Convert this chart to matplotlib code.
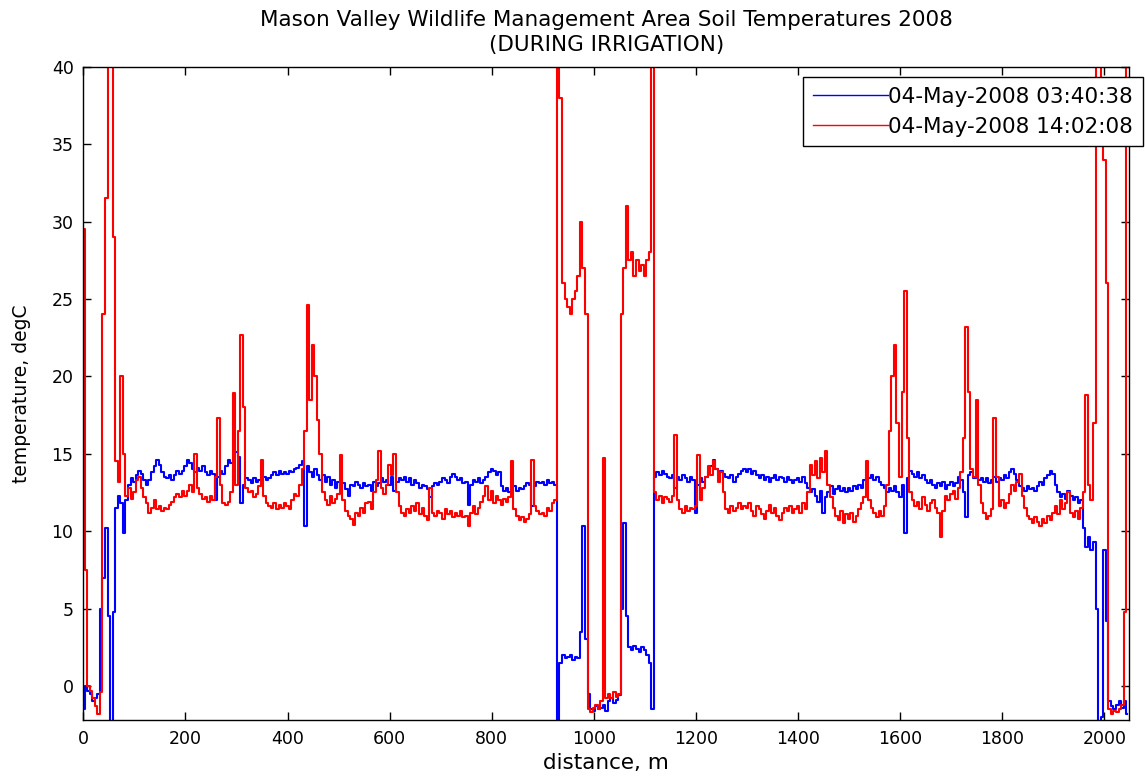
import numpy as np
import matplotlib
matplotlib.use("Agg")
import matplotlib.pyplot as plt

plt.rcParams['font.family'] = ['DejaVu Sans']

# Fibre distance, sampled every 5 m
distance_m = np.arange(0, 2050, 5)

# Soil temperature (degC) at 03:40:38
temp_0340 = [
    -1.5, 0.0, -0.3, -0.5, -1.0, -0.8, -0.5, 5.0, 7.0, 10.2, 4.5, -2.5, 4.8, 11.5, 12.3, 11.8, 9.9, 12.0, 13.0, 13.4,
    13.2, 13.6, 13.9, 13.7, 13.3, 13.0, 13.3, 13.8, 14.2, 14.6, 14.3, 13.8, 13.5, 13.4, 13.6, 13.3, 13.6, 13.9, 13.7, 13.9,
    14.2, 14.6, 14.4, 14.0, 13.8, 14.1, 13.9, 14.2, 13.8, 13.6, 13.9, 13.7, 12.0, 13.5, 13.9, 13.7, 14.2, 14.6, 14.4, 14.7,
    15.1, 14.8, 11.8, 13.0, 13.4, 13.3, 13.1, 13.4, 13.2, 13.3, 13.0, 13.5, 13.3, 13.4, 13.6, 13.8, 13.6, 13.9, 13.7, 13.8,
    13.7, 13.9, 13.8, 14.0, 14.1, 14.3, 14.5, 10.3, 14.2, 13.8, 13.5, 14.0, 13.6, 13.3, 13.6, 13.2, 13.5, 13.0, 13.3, 12.8,
    13.2, 12.9, 13.1, 12.7, 12.3, 13.0, 12.9, 13.2, 13.0, 12.8, 13.1, 12.9, 13.0, 12.6, 13.2, 12.9, 13.1, 13.4, 13.2, 13.3,
    13.0, 13.5, 12.6, 13.2, 13.4, 13.3, 13.5, 13.2, 13.4, 13.0, 13.3, 13.1, 12.8, 13.0, 12.9, 12.7, 12.2, 12.9, 13.1, 13.0,
    13.2, 13.4, 13.3, 13.1, 13.5, 13.7, 13.5, 13.3, 13.4, 13.1, 13.2, 11.7, 13.0, 13.3, 13.2, 13.4, 13.1, 13.3, 13.5, 13.8,
    14.0, 13.9, 13.6, 13.8, 12.9, 12.6, 12.8, 12.5, 12.7, 12.9, 12.6, 12.8, 12.7, 12.9, 13.1, 13.0, 11.6, 12.9, 13.2, 13.1,
    13.2, 13.0, 13.3, 13.1, 13.2, 13.0, -2.5, 1.5, 2.0, 1.8, 1.9, 2.0, 1.7, 1.9, 1.8, 3.5, 10.3, 3.0, -0.5, -1.5,
    -1.6, -1.3, -1.5, -1.4, -1.2, -1.6, -1.0, -0.8, -1.1, -0.9, -0.6, 5.0, 10.5, 4.5, 2.5, 2.3, 2.6, 2.4, 2.2, 2.5,
    2.3, 2.0, 1.5, -1.5, 13.5, 13.8, 13.6, 13.9, 13.7, 13.5, 13.4, 13.6, 12.8, 13.5, 13.3, 13.6, 13.4, 13.2, 13.5, 13.3,
    11.2, 13.0, 13.4, 13.2, 13.5, 13.8, 14.2, 14.6, 14.0, 13.6, 13.9, 13.7, 13.5, 13.4, 13.6, 13.2, 13.5, 13.7, 13.9, 14.0,
    13.8, 14.0, 13.7, 13.9, 13.6, 13.4, 13.6, 13.3, 13.5, 13.2, 13.4, 13.6, 13.3, 13.5, 13.4, 13.2, 13.5, 13.3, 13.1, 13.3,
    13.4, 13.2, 13.5, 13.1, 12.8, 12.5, 12.7, 12.3, 11.9, 12.6, 11.2, 12.2, 12.5, 12.9, 12.4, 12.7, 12.9, 12.6, 12.8, 12.5,
    12.8, 12.6, 12.9, 12.7, 13.0, 12.8, 13.3, 13.5, 13.4, 13.6, 13.3, 13.5, 13.2, 13.0, 12.8, 12.5, 12.8, 12.6, 12.9, 12.5,
    12.2, 13.0, 9.9, 13.4, 13.9, 13.7, 13.5, 13.8, 13.4, 13.6, 13.3, 13.1, 13.3, 13.0, 12.8, 13.1, 12.9, 13.2, 12.7, 13.0,
    13.2, 12.9, 13.1, 13.5, 13.3, 12.5, 10.9, 13.6, 13.8, 13.4, 13.5, 13.3, 13.4, 13.2, 13.4, 13.1, 13.3, 13.5, 13.2, 13.4,
    13.3, 13.6, 13.4, 13.8, 14.0, 13.7, 13.3, 12.9, 12.8, 12.6, 12.9, 12.7, 12.8, 12.6, 12.9, 13.2, 13.0, 13.4, 13.6, 13.9,
    13.7, 13.0, 12.5, 12.2, 12.4, 12.1, 12.6, 12.3, 12.0, 12.2, 11.8, 12.0, 10.2, 9.0, 9.6, 8.8, 9.3, 5.0, -2.5, -2.0,
    8.8, 4.2, -1.0, -1.3, -1.5, -1.2, -1.0, -1.4, -1.0, -1.8,
]

# Soil temperature (degC) at 14:02:08
temp_1402 = [
    29.5, 7.5, 0.0, -0.3, -0.8, -1.3, -1.8, -0.4, 24.0, 31.5, 44.0, 44.0, 29.0, 14.5, 13.2, 20.0, 15.0, 12.3, 12.8, 12.1,
    12.5, 13.3, 13.5, 12.8, 12.2, 11.8, 11.2, 11.5, 12.0, 11.4, 11.6, 11.3, 11.5, 11.4, 11.7, 11.9, 12.2, 12.4, 12.2, 12.6,
    12.3, 12.6, 13.0, 12.5, 15.0, 12.8, 12.4, 12.1, 12.2, 11.9, 12.3, 12.0, 13.5, 17.3, 13.0, 11.8, 11.7, 11.9, 12.5, 18.9,
    13.0, 16.5, 22.7, 18.0, 12.8, 12.5, 12.6, 12.2, 12.4, 12.9, 14.6, 12.3, 11.8, 11.6, 11.5, 11.8, 11.4, 11.7, 11.5, 11.8,
    11.6, 11.4, 12.0, 12.4, 12.3, 13.0, 14.0, 16.5, 24.6, 18.5, 22.0, 20.0, 17.2, 15.0, 12.5, 12.0, 11.7, 12.3, 11.8, 12.1,
    12.4, 14.9, 12.0, 11.3, 11.0, 10.8, 10.4, 11.2, 11.0, 11.5, 11.2, 11.8, 11.9, 11.4, 12.5, 13.3, 15.2, 12.8, 12.4, 13.0,
    14.3, 13.6, 15.0, 12.5, 11.6, 11.2, 11.0, 11.4, 11.2, 11.6, 11.3, 11.8, 11.1, 11.5, 11.0, 10.7, 12.8, 11.2, 11.0, 11.3,
    11.2, 10.8, 11.4, 11.1, 11.3, 10.9, 11.2, 11.0, 11.3, 10.9, 11.0, 10.3, 11.2, 11.6, 11.1, 11.5, 11.9, 12.3, 12.9, 12.0,
    12.6, 11.8, 12.3, 12.0, 11.7, 12.1, 11.9, 12.2, 14.5, 11.4, 11.0, 10.7, 10.9, 10.6, 10.8, 11.1, 14.6, 11.6, 11.3, 11.1,
    11.2, 11.0, 11.5, 11.3, 11.8, 12.0, 45.0, 38.0, 26.0, 25.0, 24.5, 24.0, 25.0, 25.5, 26.5, 30.0, 27.0, 24.0, -1.5, -1.7,
    -1.4, -1.2, -1.5, -1.0, 14.7, -0.8, -0.5, -0.8, -0.4, -0.7, -0.5, 24.0, 27.0, 31.0, 27.5, 28.0, 26.5, 27.5, 26.8, 27.2,
    26.5, 27.5, 28.0, 45.0, 12.5, 12.0, 12.3, 11.8, 12.2, 12.1, 11.9, 12.3, 16.2, 12.0, 11.4, 11.2, 11.6, 11.3, 11.5, 11.4,
    11.6, 14.9, 12.0, 12.8, 13.5, 14.2, 13.6, 14.5, 14.0, 13.2, 13.8, 12.5, 11.4, 11.2, 11.6, 11.3, 11.5, 11.8, 11.4, 11.6,
    11.5, 11.8, 11.3, 11.0, 11.6, 11.4, 11.1, 10.8, 11.3, 11.7, 11.2, 11.5, 11.0, 10.7, 11.2, 11.5, 11.3, 11.6, 11.2, 11.4,
    11.6, 11.2, 11.8, 11.4, 12.5, 14.3, 13.6, 14.5, 13.4, 14.7, 13.8, 15.2, 13.0, 12.2, 11.5, 11.0, 10.7, 11.3, 10.5, 11.1,
    10.8, 11.2, 10.6, 11.0, 11.4, 11.8, 12.2, 14.5, 12.0, 11.5, 11.2, 10.9, 11.3, 11.0, 11.6, 13.0, 16.5, 20.0, 22.0, 17.0,
    13.5, 19.0, 25.5, 16.0, 12.5, 12.0, 11.6, 11.9, 11.4, 12.2, 11.7, 11.3, 11.8, 12.0, 11.5, 11.2, 9.6, 11.3, 12.3, 12.0,
    12.4, 12.6, 12.1, 12.8, 13.8, 16.0, 23.2, 19.0, 14.0, 13.5, 18.5, 13.0, 11.8, 11.2, 10.8, 11.0, 11.4, 17.3, 13.5, 11.6,
    12.0, 11.5, 11.8, 12.4, 13.0, 12.6, 13.2, 13.7, 12.3, 11.5, 11.0, 10.8, 10.5, 10.9, 10.6, 10.3, 10.8, 10.5, 11.0, 10.7,
    11.2, 11.6, 11.1, 12.0, 11.4, 11.8, 12.5, 11.2, 10.9, 11.3, 10.8, 11.5, 12.5, 18.8, 13.0, 12.0, 17.0, 45.0, 45.0, 36.0,
    34.0, 26.0, -1.5, -1.8, -1.6, -1.7, -1.5, -1.2, 4.8, 45.0,
]

series_labels = ['04-May-2008 03:40:38', '04-May-2008 14:02:08']
x_ticks = list(range(0, 2001, 200))
y_ticks = list(range(0, 41, 5))

W, H = 1145, 778
fig = plt.figure(figsize=(W / 100, H / 100), dpi=100)
ax = fig.add_axes([83.3 / W, 1 - 720 / H, (1129 - 83.3) / W, (720 - 66.7) / H])

ax.plot(distance_m, temp_0340, color='#0000ff', lw=1.5, drawstyle='steps-mid',
        label=series_labels[0])
ax.plot(distance_m, temp_1402, color='#ff0000', lw=1.5, drawstyle='steps-mid',
        label=series_labels[1])

ax.set_xlim(0, 2048)
ax.set_ylim(-2.2, 40)
ax.set_xticks(x_ticks)
ax.set_yticks(y_ticks)
ax.tick_params(direction='in', length=6, width=1, top=True, right=True,
               labelsize=12.5, pad=7, colors='black')
for sp in ax.spines.values():
    sp.set_linewidth(1.0)
    sp.set_color('black')

ax.set_xlabel('distance, m', fontsize=15.5, labelpad=4)
ax.set_ylabel('temperature, degC', fontsize=13.5, labelpad=15)
ax.set_title('Mason Valley Wildlife Management Area Soil Temperatures 2008\n(DURING IRRIGATION)',
             fontsize=15.5, pad=11, linespacing=1.35)

leg = ax.legend(loc='upper right', bbox_to_anchor=(1143 / W, 1 - 77 / H),
                bbox_transform=fig.transFigure, fontsize=15.5, handlelength=3.5,
                handletextpad=0.0, borderpad=0.45, labelspacing=0.47,
                fancybox=False, framealpha=1, edgecolor='black', borderaxespad=0)
leg.get_frame().set_linewidth(1.0)
for h in leg.get_lines():
    h.set_linewidth(1.0)

fig.savefig('out.png', dpi=100, facecolor='white')
